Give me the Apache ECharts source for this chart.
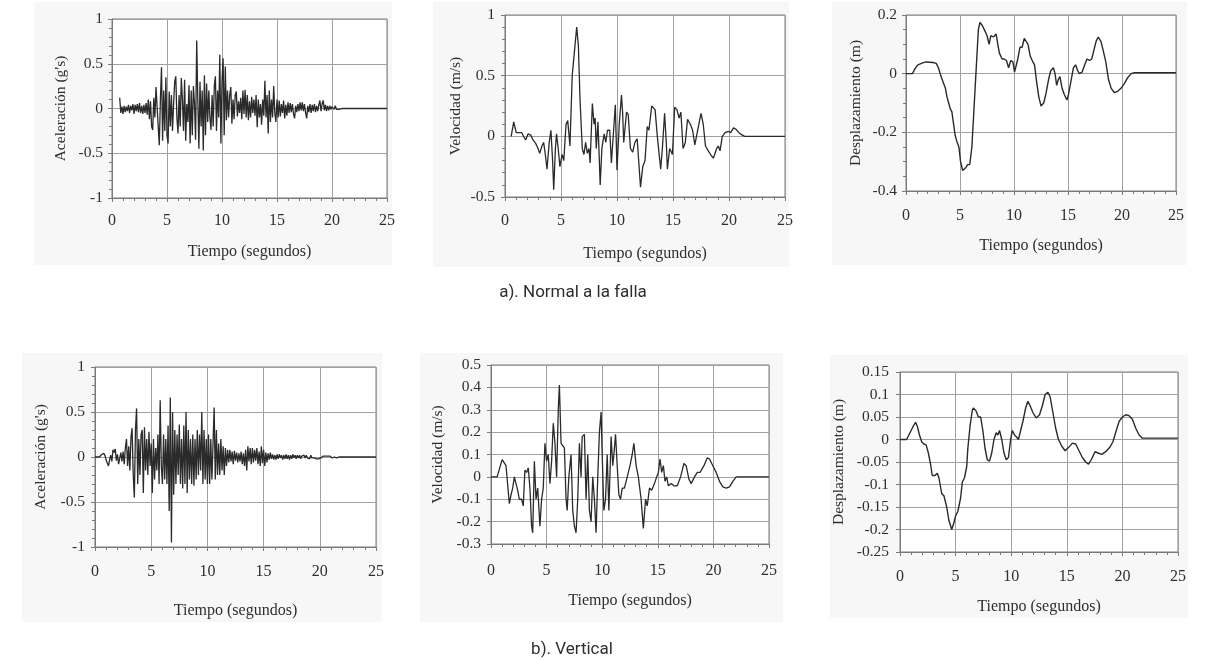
<!DOCTYPE html>
<html>
<head>
<meta charset="utf-8">
<script src="https://cdn.jsdelivr.net/npm/echarts@6/dist/echarts.min.js"></script>
<style>
  html, body { margin: 0; padding: 0; background: #ffffff; }
  #wrap { position: relative; width: 1212px; height: 660px; }
  .panel { position: absolute; background: #f7f7f7; }
  #chart { position: absolute; left: 0; top: 0; width: 1212px; height: 660px; }
</style>
</head>
<body>
<div id="wrap">
  <div class="panel" style="left:34px;top:2px;width:358px;height:263px;"></div>
  <div class="panel" style="left:433px;top:2px;width:356px;height:265px;"></div>
  <div class="panel" style="left:832px;top:2px;width:355px;height:263px;"></div>
  <div class="panel" style="left:22px;top:353px;width:360px;height:269px;"></div>
  <div class="panel" style="left:420px;top:353px;width:363px;height:269px;"></div>
  <div class="panel" style="left:830px;top:355px;width:358px;height:263px;"></div>
  <div id="chart"></div>
</div>
<script>
// ---------------- DATA ----------------
const timeMin = 0, timeMax = 25, timeStep = 5;
const timeName = 'Tiempo (segundos)';
const captions = ['a). Normal a la falla', 'b). Vertical'];
const yNames = ['Aceleración (g\'s)', 'Velocidad (m/s)', 'Desplazamiento (m)',
                'Aceleración (g\'s)', 'Velocidad (m/s)', 'Desplazamiento (m)'];

// Acceleration, normal to fault: samples every 0.1 s starting at 0.7 s
const accNormalStart = 0.7;
const accNormalStep = 0.1;
const accNormal = [
  0.12, -0.05, 0.02, -0.06,
  0.03, -0.04, 0.02, -0.03, 0.04, -0.05, 0.03, -0.02, 0.05, -0.06,
  0.04, -0.03, 0.05, -0.04, 0.06, -0.05, 0.03, -0.06, 0.04, -0.05,
  0.06, -0.07, 0.1, -0.12, 0.08, -0.2, -0.24, 0.12, -0.1, 0.24,
  0.26, -0.2, -0.41, 0.1, 0.46, -0.36, 0.2, -0.25, 0.35, -0.3,
  -0.39, 0.19, -0.2, 0.15, -0.25, 0.05, 0.3, 0.36, -0.1, -0.28,
  0.15, -0.2, 0.34, 0.1, -0.25, 0.32, -0.36, 0.05, -0.15, 0.26,
  -0.39, 0.2, -0.3, 0.25, 0.05, -0.35, 0.76, 0.1, -0.45, 0.3,
  -0.2, 0.2, -0.47, 0.37, -0.3, 0.28, -0.15, 0.2, -0.1, -0.24,
  0.15, -0.2, 0.25, 0.36, -0.25, 0.2, -0.1, 0.6, -0.39, 0.3,
  0.56, -0.3, 0.47, -0.13, 0.2, -0.1, 0.15, 0.24, -0.17, 0.1,
  -0.12, 0.15, 0.19, -0.09, 0.08, -0.05, 0.12, -0.12, 0.2, -0.06,
  0.21, -0.1, 0.15, -0.13, 0.08, -0.1, 0.13, -0.05, 0.1, -0.08,
  0.15, -0.21, 0.1, -0.1, 0.05, -0.18, 0.1, -0.08, 0.31, -0.1,
  0.15, -0.28, 0.2, -0.15, 0.1, -0.1, 0.25, -0.05, -0.15, 0.1,
  -0.1, 0.09, -0.09, 0.05, -0.05, 0.09, -0.11, 0.04, -0.08, 0.07,
  -0.05, 0.06, -0.04, 0.05, -0.06, -0.11, 0.03, -0.04, 0.05, -0.03,
  0.07, -0.02, 0.07, -0.03, 0.05, -0.05, -0.11, 0.03, -0.04, 0.05,
  -0.05, 0.04, -0.03, 0.05, -0.04, 0.03, -0.03, 0.04, 0.09, -0.03,
  0.05, 0.09, -0.02, 0.04, -0.03, 0.03, -0.02, 0.03, -0.01, 0.02,
  0.02, -0.01, 0.03, -0.01, 0.01, -0.01, 0.005, -0.005, 0, 0
];
const accNormalTailT = [21.5, 25];
const accNormalTailV = [0, 0];

// Acceleration, vertical: samples every 0.1 s starting at 0 s
const accVertStart = 0;
const accVertStep = 0.1;
const accVert = [
  0, 0, 0, 0, 0, 0.01, 0.03, 0.02, 0.04, 0.01,
  -0.04, -0.06, -0.1, -0.03, 0.02, -0.05, 0.08, 0.05, 0.09, -0.04,
  0.03, -0.08, -0.1, 0.05, -0.05, 0.06, -0.08, 0.1, 0.2, -0.1,
  0.12, -0.15, 0.22, 0.32, -0.2, -0.45, 0.3, 0.54, -0.3, 0.2,
  -0.2, 0.25, 0.3, -0.4, 0.33, -0.15, 0.2, -0.2, 0.28, -0.1,
  0.15, -0.4, 0.2, -0.25, 0.1, -0.15, 0.25, -0.3, 0.63, -0.1,
  -0.3, 0.25, -0.25, 0.2, -0.3, 0.35, -0.6, 0.66, -0.95, 0.5,
  -0.42, 0.3, -0.3, 0.25, -0.2, 0.36, -0.3, 0.2, -0.35, 0.35,
  -0.3, 0.5, -0.4, 0.3, -0.25, 0.2, -0.3, 0.25, -0.32, 0.2,
  -0.25, 0.3, -0.2, 0.25, -0.15, 0.5, -0.3, 0.3, -0.25, 0.2,
  -0.3, 0.25, -0.3, 0.2, -0.25, 0.15, 0.55, -0.25, 0.3, -0.2,
  0.15, -0.2, 0.2, -0.15, 0.12, -0.2, 0.1, -0.1, 0.08, -0.06,
  0.08, -0.05, 0.06, -0.08, 0.07, -0.04, 0.05, -0.06, 0.04, -0.05,
  0.06, -0.08, 0.04, -0.1, 0.08, -0.15, 0.12, -0.05, 0.1, -0.08,
  0.1, -0.06, 0.08, -0.04, 0.1, -0.08, 0.06, -0.1, 0.12, -0.07,
  0.08, -0.1, 0.05, -0.06, 0.04, -0.03, 0.05, -0.02, 0.03, -0.03,
  0.02, -0.03, 0.03, -0.02, 0.03, -0.01, 0.02, -0.03, 0.02, -0.02,
  0.03, -0.02, 0.02, -0.03, 0.02, -0.02, 0.03, -0.01, 0.02, -0.02,
  0.02, -0.01, 0.02, -0.02, 0.01, -0.01, 0.02, -0.01, 0.02, -0.01,
  0.01, -0.02, 0.02, -0.01, 0.01, -0.01, 0.01, -0.02, -0.01, -0.02,
  -0.03, -0.01, -0.02, 0.01, -0.01, 0.01, -0.01, 0.01, 0, 0.01,
  0.01, -0.01, 0.01, 0, 0.01, -0.01, 0.01, 0, 0.01, 0,
  0.01, 0, 0.005, 0, 0
];
const accVertTailT = [25];
const accVertTailV = [0];

// Velocity, normal to fault
const velNormalT = [
  0.55, 0.78, 1.0, 1.2, 1.35, 1.5, 1.65, 1.85, 2.05, 2.3,
  2.5, 2.75, 2.95, 3.1, 3.3, 3.45, 3.6, 3.75, 3.95, 4.1,
  4.25, 4.35, 4.5, 4.6, 4.75, 4.9, 5.1, 5.25, 5.45, 5.6,
  5.8, 6.0, 6.2, 6.4, 6.55, 6.7, 6.9, 7.05, 7.2, 7.35,
  7.5, 7.6, 7.8, 7.95, 8.05, 8.15, 8.3, 8.5, 8.65, 8.85,
  9.0, 9.15, 9.35, 9.5, 9.7, 9.85, 10.0, 10.2, 10.4, 10.5,
  10.6, 10.85, 11.0, 11.2, 11.4, 11.6, 11.8, 12.1, 12.3, 12.5,
  12.7, 12.85, 13.1, 13.4, 13.6, 13.9, 14.05, 14.25, 14.4, 14.5,
  14.7, 14.95, 15.15, 15.35, 15.55, 15.7, 15.9, 16.1, 16.3, 16.55,
  16.75, 16.95, 17.2, 17.5, 17.7, 17.9, 18.15, 18.35, 18.6, 18.9,
  19.05, 19.2, 19.4, 19.65, 19.95, 20.15, 20.4, 20.6, 21.0, 21.4,
  25
];
const velNormalV = [
  0, 0.12, 0.03, 0.03, 0.02, 0.03, 0.0, -0.03, 0.02, 0.01,
  -0.03, -0.06, -0.1, -0.14, -0.08, -0.05, -0.15, -0.27, -0.05, 0.05,
  -0.2, -0.44, -0.1, 0.02, -0.1, -0.25, -0.15, -0.2, 0.1, 0.13,
  -0.08, 0.5, 0.7, 0.9, 0.75, 0.3, -0.1, -0.15, -0.05, -0.14,
  -0.1, -0.22, 0.27, 0.1, 0.15, -0.1, 0.12, -0.4, -0.1, 0.02,
  -0.05, 0.05, 0.05, -0.22, 0.05, 0.26, -0.28, 0.1, 0.34, 0.2,
  -0.05, 0.2, 0.18, -0.1, -0.13, -0.05, -0.02, -0.42, -0.25, -0.2,
  0.08, 0.05, 0.25, 0.22, 0.0, -0.27, -0.1, 0.19, -0.05, -0.27,
  -0.1, -0.15, 0.24, 0.22, 0.15, 0.2, -0.1, -0.05, 0.14, 0.1,
  0.05, -0.07, 0.05, 0.19, 0.1, -0.08, -0.12, -0.15, -0.18, -0.1,
  -0.08, -0.12, 0.0, 0.03, 0.04, 0.03, 0.07, 0.06, 0.02, 0.0,
  0
];

// Velocity, vertical
const velVertT = [
  0, 0.55, 1.0, 1.35, 1.65, 1.8, 1.95, 2.1, 2.25, 2.4,
  2.55, 2.75, 2.9, 3.05, 3.2, 3.35, 3.5, 3.65, 3.75, 3.9,
  4.05, 4.2, 4.4, 4.55, 4.7, 4.85, 5.0, 5.15, 5.3, 5.45,
  5.6, 5.75, 5.9, 6.05, 6.15, 6.3, 6.45, 6.6, 6.75, 6.85,
  7.0, 7.2, 7.35, 7.5, 7.65, 7.8, 7.95, 8.1, 8.2, 8.4,
  8.55, 8.7, 8.85, 9.0, 9.15, 9.3, 9.45, 9.6, 9.75, 9.9,
  10.0, 10.15, 10.3, 10.45, 10.6, 10.8, 10.95, 11.05, 11.2, 11.35,
  11.5, 11.65, 11.8, 12.0, 12.25, 12.5, 12.7, 12.85, 13.05, 13.25,
  13.5, 13.7, 13.9, 14.05, 14.25, 14.45, 14.7, 14.9, 15.05, 15.2,
  15.35, 15.5, 15.65, 15.8, 15.95, 16.2, 16.45, 16.75, 17.05, 17.35,
  17.55, 17.8, 18.0, 18.3, 18.55, 18.8, 19.15, 19.45, 19.65, 19.95,
  20.25, 20.55, 20.85, 21.15, 21.45, 21.75, 22.05, 25
];
const velVertV = [
  0, 0, 0.077, 0.05, -0.12, -0.08, -0.05, 0.0, 0.0, -0.06,
  -0.1, -0.1, -0.13, 0.03, 0.02, 0.04, -0.05, -0.22, -0.25, 0.07,
  -0.1, -0.05, -0.22, -0.1, -0.05, 0.15, 0.07, 0.1, -0.03, 0.07,
  0.24, 0.15, 0.0, 0.3, 0.41, 0.15, 0.15, 0.13, -0.1, -0.15,
  0.0, 0.1, -0.15, -0.22, -0.25, -0.1, 0.15, 0.0, 0.18, 0.19,
  -0.1, 0.1, -0.15, -0.2, 0.0, -0.1, -0.25, 0.0, 0.2, 0.29,
  0.1, -0.15, -0.1, 0.1, -0.15, 0.18, 0.05, 0.1, 0.19, 0.05,
  -0.08, -0.1, -0.05, -0.05, 0.0, 0.05, 0.1, 0.15, 0.05, 0.0,
  -0.1, -0.23, -0.1, -0.13, -0.05, -0.06, -0.03, 0.0, 0.02, 0.08,
  0.02, 0.05, -0.02, 0.0, -0.04, -0.03, -0.04, -0.04, 0.0, 0.06,
  0.05, -0.01, -0.03, 0.0, 0.02, 0.02, 0.05, 0.085, 0.08, 0.05,
  0.02, -0.02, -0.045, -0.05, -0.045, -0.02, 0.0, 0.0
];

// Displacement, normal to fault
const dispNormalT = [
  0, 0.6, 0.8, 1.1, 1.55, 1.85, 2.5, 2.8, 3.0, 3.25,
  3.45, 3.65, 3.8, 3.95, 4.1, 4.25, 4.4, 4.55, 4.7, 4.9,
  5.05, 5.25, 5.4, 5.55, 5.7, 5.9, 6.1, 6.25, 6.4, 6.55,
  6.7, 6.85, 7.05, 7.25, 7.5, 7.7, 7.85, 8.1, 8.35, 8.5,
  8.65, 8.9, 9.1, 9.3, 9.5, 9.7, 9.9, 10.05, 10.2, 10.35,
  10.55, 10.75, 10.95, 11.1, 11.3, 11.5, 11.75, 11.9, 12.1, 12.3,
  12.5, 12.75, 12.95, 13.2, 13.4, 13.65, 13.8, 13.95, 14.1, 14.25,
  14.45, 14.65, 14.9, 15.05, 15.3, 15.5, 15.7, 15.9, 16.05, 16.3,
  16.5, 16.75, 17.0, 17.2, 17.4, 17.6, 17.8, 18.05, 18.25, 18.5,
  18.75, 19.0, 19.3, 19.6, 19.9, 20.2, 20.5, 20.85, 21.15, 25
];
const dispNormalV = [
  0, 0, 0.015, 0.03, 0.037, 0.04, 0.038, 0.035, 0.02, -0.01,
  -0.03, -0.05, -0.08, -0.1, -0.12, -0.13, -0.17, -0.21, -0.23, -0.25,
  -0.3, -0.33, -0.335, -0.32, -0.31, -0.31, -0.25, -0.15, -0.05, 0.05,
  0.15, 0.175, 0.165, 0.15, 0.13, 0.1, 0.13, 0.125, 0.135, 0.1,
  0.07, 0.05, 0.05, 0.045, 0.02, 0.045, 0.04, 0.005, 0.01, 0.05,
  0.09, 0.09, 0.12, 0.125, 0.1, 0.06, 0.04, 0.03, -0.03, -0.08,
  -0.11, -0.1, -0.07, -0.02, 0.01, 0.02, 0.0, -0.04, -0.02, -0.01,
  -0.05, -0.07, -0.09, -0.07, -0.02, 0.02, 0.03, 0.01, 0.0, 0.005,
  0.025, 0.05, 0.045, 0.05, 0.08, 0.11, 0.125, 0.11, 0.08, 0.04,
  -0.02, -0.05, -0.065, -0.06, -0.05, -0.035, -0.015, 0.0, 0.003, 0.003
];

// Displacement, vertical
const dispVertT = [
  0, 0.6, 0.9, 1.2, 1.4, 1.55, 1.75, 1.95, 2.15, 2.35,
  2.55, 2.75, 2.9, 3.15, 3.35, 3.5, 3.75, 3.95, 4.2, 4.4,
  4.65, 4.85, 5.0, 5.2, 5.45, 5.6, 5.8, 6.0, 6.1, 6.3,
  6.5, 6.6, 6.85, 7.05, 7.25, 7.45, 7.65, 7.85, 8.05, 8.25,
  8.45, 8.65, 8.8, 8.95, 9.15, 9.35, 9.55, 9.75, 9.95, 10.1,
  10.3, 10.5, 10.65, 10.85, 11.05, 11.3, 11.5, 11.7, 11.95, 12.25,
  12.55, 12.8, 13.05, 13.3, 13.5, 13.75, 14.0, 14.25, 14.55, 14.85,
  15.15, 15.5, 15.8, 16.1, 16.4, 16.7, 16.95, 17.2, 17.55, 17.8,
  18.15, 18.5, 18.85, 19.15, 19.45, 19.7, 20.0, 20.3, 20.6, 20.9,
  21.2, 21.5, 21.8, 25
];
const dispVertV = [
  0, 0, 0.015, 0.03, 0.038, 0.03, 0.01, -0.005, -0.01, -0.012,
  -0.03, -0.055, -0.08, -0.08, -0.075, -0.085, -0.12, -0.125, -0.15, -0.18,
  -0.2, -0.185, -0.17, -0.16, -0.13, -0.095, -0.085, -0.06, -0.02, 0.03,
  0.065, 0.07, 0.063, 0.05, 0.05, 0.02, -0.02, -0.045, -0.048, -0.03,
  0.0, 0.015, 0.01, 0.02, 0.0, -0.03, -0.045, -0.04, 0.0, 0.02,
  0.01, 0.005, 0.0, 0.02, 0.04, 0.07, 0.085, 0.075, 0.06, 0.048,
  0.055, 0.075, 0.1, 0.105, 0.095, 0.06, 0.025, 0.0, -0.015, -0.025,
  -0.018, -0.008, -0.01, -0.025, -0.04, -0.05, -0.055, -0.045, -0.027, -0.03,
  -0.033, -0.027, -0.018, -0.005, 0.02, 0.04, 0.05, 0.055, 0.053, 0.045,
  0.025, 0.01, 0.003, 0.003
];

// Y axis ranges (min, max, interval, minor split) per panel
const yMin = [-1, -0.5, -0.4, -1, -0.3, -0.25];
const yMax = [1, 1, 0.2, 1, 0.5, 0.15];
const yInterval = [0.5, 0.5, 0.2, 0.5, 0.1, 0.05];
const yMinorSplit = [5, 5, 4, 5, 0, 0];

// ---------------- BUILD ----------------
function zip(t, v) { return t.map((x, i) => [x, v[i]]); }
function sampled(start, step, v) {
  return v.map((y, i) => [Math.round((start + i * step) * 1000) / 1000, y]);
}

const seriesData = [
  sampled(accNormalStart, accNormalStep, accNormal).concat(zip(accNormalTailT, accNormalTailV)),
  zip(velNormalT, velNormalV),
  zip(dispNormalT, dispNormalV),
  sampled(accVertStart, accVertStep, accVert).concat(zip(accVertTailT, accVertTailV)),
  zip(velVertT, velVertV),
  zip(dispVertT, dispVertV)
];

// Layout (pixels)
const grids = [
  { left: 112, top: 19, width: 275, height: 179 },
  { left: 505, top: 15, width: 280, height: 182 },
  { left: 906, top: 15, width: 270, height: 176 },
  { left: 95, top: 367, width: 281, height: 180 },
  { left: 491, top: 365, width: 278, height: 179 },
  { left: 900, top: 372, width: 278, height: 180 }
];
const xLabelMargin = [15, 16, 17, 17, 19, 17];
const xNameGap = [46, 49, 47, 56, 49, 47];
const yLabelMargin = [9, 10, 9, 10, 10, 11];
const yNameGap = [43, 41, 42, 46, 45, 53];
const lineWidths = [1.3, 1.3, 1.4, 1.3, 1.3, 1.4];

const serif = 'Liberation Serif, "Times New Roman", serif';
const textCol = '#2e2e2e';
const axisCol = '#7a7a7a';
const gridCol = '#a0a0a0';

const option = {
  animation: false,
  backgroundColor: 'transparent',
  grid: grids.map(g => Object.assign({
    show: true, backgroundColor: '#ffffff', borderColor: axisCol, borderWidth: 1, containLabel: false
  }, g)),
  xAxis: grids.map((g, i) => ({
    type: 'value', gridIndex: i, min: timeMin, max: timeMax, interval: timeStep,
    name: timeName, nameLocation: 'middle', nameGap: xNameGap[i],
    nameTextStyle: { fontFamily: serif, fontSize: 16, color: textCol },
    axisLine: { show: true, onZero: false, lineStyle: { color: axisCol, width: 1 } },
    axisTick: { show: true, inside: false, length: 4, lineStyle: { color: axisCol } },
    minorTick: { show: true, splitNumber: 5, length: 3, lineStyle: { color: axisCol } },
    splitLine: { show: true, lineStyle: { color: gridCol, width: 1 } },
    axisLabel: { fontFamily: serif, fontSize: 16, color: textCol, margin: xLabelMargin[i] }
  })),
  yAxis: grids.map((g, i) => ({
    type: 'value', gridIndex: i, min: yMin[i], max: yMax[i], interval: yInterval[i],
    name: yNames[i], nameLocation: 'middle', nameGap: yNameGap[i],
    nameTextStyle: { fontFamily: serif, fontSize: 15.5, color: textCol },
    axisLine: { show: true, onZero: false, lineStyle: { color: axisCol, width: 1 } },
    axisTick: { show: true, inside: false, length: 4, lineStyle: { color: axisCol } },
    minorTick: { show: yMinorSplit[i] > 0, splitNumber: yMinorSplit[i] || 5, length: 3, lineStyle: { color: axisCol } },
    splitLine: { show: true, lineStyle: { color: gridCol, width: 1 } },
    axisLabel: { fontFamily: serif, fontSize: 15.5, color: textCol, margin: yLabelMargin[i] }
  })),
  series: seriesData.map((d, i) => ({
    type: 'line', xAxisIndex: i, yAxisIndex: i, data: d,
    showSymbol: false, symbol: 'none', clip: true,
    lineStyle: { color: '#2a2a2a', width: lineWidths[i] }
  })),
  graphic: [
    { type: 'text', x: 573, y: 293, style: { text: captions[0], fill: '#2e2e2e', font: '17px Roboto, "Liberation Sans", sans-serif', align: 'center', verticalAlign: 'middle' } },
    { type: 'text', x: 572, y: 650, style: { text: captions[1], fill: '#2e2e2e', font: '17px Roboto, "Liberation Sans", sans-serif', align: 'center', verticalAlign: 'middle' } }
  ]
};

const chart = echarts.init(document.getElementById('chart'), null, { renderer: 'canvas' });
chart.setOption(option);
</script>
</body>
</html>
